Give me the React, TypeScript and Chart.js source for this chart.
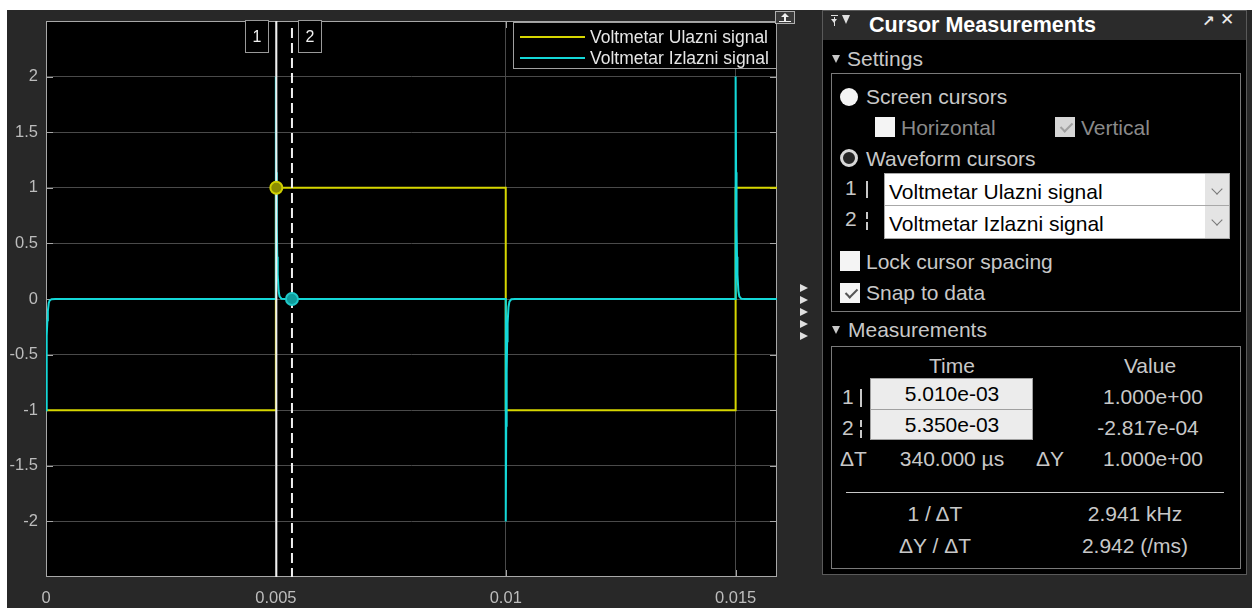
import React, { useEffect, useRef } from "react";
import { Chart, registerables } from "chart.js";

Chart.register(...registerables);

// ---------------- data ----------------
const xTicks = [0, 0.005, 0.01, 0.015];
const yTicks = [-2, -1.5, -1, -0.5, 0, 0.5, 1, 1.5, 2];
const xRange = [0, 0.0159];
const yRange = [-2.5, 2.5];

const seriesNames = ["Voltmetar Ulazni signal", "Voltmetar Izlazni signal"];
const seriesColors = ["#d6d600", "#14d8d8"];

// input square wave (yellow)
const ulazniT = [0, 0.005, 0.005, 0.01, 0.01, 0.015, 0.015, 0.0159];
const ulazniV = [-1, -1, 1, 1, -1, -1, 1, 1];

// output (cyan): spikes at each edge that decay quickly to zero
const izlazniT = [
  0, 0.00001, 0.00002, 0.00003, 0.00004, 0.00006, 0.00008, 0.00012, 0.0002,
  0.005, 0.005, 0.00501, 0.00502, 0.00503, 0.00504, 0.00506, 0.00508, 0.00512, 0.0052, 0.00535,
  0.01, 0.01, 0.01001, 0.01002, 0.01003, 0.01004, 0.01006, 0.01008, 0.01012, 0.0102,
  0.015, 0.015, 0.01501, 0.01502, 0.01503, 0.01504, 0.01506, 0.01508, 0.01512, 0.0152, 0.0159,
];
const izlazniV = [
  -1, -0.57, -0.33, -0.19, -0.11, -0.036, -0.012, -0.0013, 0,
  0, 2, 1.14, 0.66, 0.38, 0.22, 0.072, 0.024, 0.0026, 0, -0.00028,
  0, -2, -1.14, -0.66, -0.38, -0.22, -0.072, -0.024, -0.0026, 0,
  0, 2, 1.14, 0.66, 0.38, 0.22, 0.072, 0.024, 0.0026, 0, 0,
];

// waveform cursors
const cursorLabels = ["1", "2"];
const cursorTimes = [0.00501, 0.00535];
const cursorValues = [1.0, -2.817e-4];
const cursorFill = ["#8c8c00", "#0f9c9c"];
const cursorEdge = ["#cfcf00", "#20c8c8"];

const FONT = '"Liberation Sans", Arial, sans-serif';

const decor = {
  id: "scopeDecor",
  beforeDraw(chart: any) {
    const { ctx, chartArea: a } = chart;
    ctx.save();
    ctx.fillStyle = "#000";
    ctx.fillRect(a.left, a.top, a.right - a.left, a.bottom - a.top);
    ctx.restore();
  },
  beforeDatasetsDraw(chart: any) {
    const { ctx, chartArea: a, scales } = chart;
    const L = a.left, R = a.right, T = a.top, B = a.bottom;
    ctx.save();
    ctx.strokeStyle = "#a8a8a8";
    ctx.lineWidth = 1;
    const seg = (x0: number, y0: number, x1: number, y1: number) => {
      ctx.beginPath();
      ctx.moveTo(x0, y0);
      ctx.lineTo(x1, y1);
      ctx.stroke();
    };
    yTicks.forEach((v) => {
      const y = Math.round(scales.y.getPixelForValue(v)) + 0.5;
      seg(L, y, L + 7, y);
      seg(R - 7, y, R, y);
    });
    xTicks.forEach((v) => {
      const x = Math.round(scales.x.getPixelForValue(v)) + 0.5;
      seg(x, B, x, B - 7);
      seg(x, T, x, T + 7);
    });
    ctx.strokeRect(L + 0.5, T + 0.5, R - L - 1, B - T - 1);
    ctx.restore();
  },
  afterDatasetDraw(chart: any, args: any) {
    if (args.index !== 1) return;
    const { ctx, chartArea: a, scales } = chart;
    const x1 = scales.x.getPixelForValue(cursorTimes[0]);
    const x2 = scales.x.getPixelForValue(cursorTimes[1]);
    ctx.save();
    ctx.strokeStyle = "#f0f0f0";
    ctx.lineWidth = 2;
    ctx.beginPath();
    ctx.moveTo(x1, a.top);
    ctx.lineTo(x1, a.bottom);
    ctx.stroke();
    ctx.setLineDash([10, 5]);
    ctx.beginPath();
    ctx.moveTo(x2, a.top + 7);
    ctx.lineTo(x2, a.bottom);
    ctx.stroke();
    ctx.restore();
  },
  afterDraw(chart: any) {
    const { ctx, chartArea: a, scales } = chart;
    const R = a.right, T = a.top;
    ctx.save();
    ctx.lineWidth = 1;
    const seg = (x0: number, y0: number, x1: number, y1: number) => {
      ctx.beginPath();
      ctx.moveTo(x0, y0);
      ctx.lineTo(x1, y1);
      ctx.stroke();
    };

    // cursor label boxes
    ctx.font = `16px ${FONT}`;
    ctx.textAlign = "center";
    ctx.textBaseline = "middle";
    cursorTimes.forEach((t, i) => {
      const cx = Math.round(scales.x.getPixelForValue(t));
      const bx = i === 0 ? cx - 31 : cx + 6;
      ctx.fillStyle = "#000";
      ctx.fillRect(bx, T - 1, 24, 33);
      ctx.strokeStyle = "#9a9a9a";
      ctx.strokeRect(bx + 0.5, T - 0.5, 23, 32);
      ctx.fillStyle = "#f0f0f0";
      ctx.fillText(cursorLabels[i], bx + 12, T + 17);
    });

    // legend
    const lw = 264, lh = 47;
    const lx = R - lw, ly = T + 1;
    ctx.fillStyle = "#000";
    ctx.fillRect(lx, ly, lw, lh);
    ctx.strokeStyle = "#a0a0a0";
    ctx.strokeRect(lx + 0.5, ly + 0.5, lw - 1, lh - 1);
    ctx.font = `17.5px ${FONT}`;
    ctx.textAlign = "left";
    chart.data.datasets.slice(0, 2).forEach((ds: any, i: number) => {
      const y = ly + 15 + i * 21;
      ctx.strokeStyle = ds.borderColor;
      ctx.lineWidth = 2;
      seg(lx + 7, y, lx + 72, y);
      ctx.fillStyle = "#e6e6e6";
      ctx.fillText(ds.label, lx + 77, y + 1);
    });
    ctx.restore();
  },
};

function ScopeChart() {
  const ref = useRef<HTMLCanvasElement | null>(null);
  useEffect(() => {
    if (!ref.current) return;
    const tickFont = { family: "Liberation Sans", size: 16.5 };
    const chart = new Chart(ref.current, {
      type: "line",
      data: {
        datasets: [
          {
            label: seriesNames[0],
            data: ulazniT.map((t, i) => ({ x: t, y: ulazniV[i] })),
            borderColor: seriesColors[0],
            borderWidth: 2,
            pointRadius: 0,
            tension: 0,
            order: 2,
          },
          {
            label: seriesNames[1],
            data: izlazniT.map((t, i) => ({ x: t, y: izlazniV[i] })),
            borderColor: seriesColors[1],
            borderWidth: 2,
            pointRadius: 0,
            tension: 0,
            order: 1,
          },
          {
            label: "cursors",
            data: cursorTimes.map((t, i) => ({ x: t, y: cursorValues[i] })),
            showLine: false,
            pointRadius: 6,
            pointBorderWidth: 2,
            pointBackgroundColor: cursorFill,
            pointBorderColor: cursorEdge,
            order: 0,
          },
        ],
      },
      options: {
        animation: false,
        responsive: false,
        maintainAspectRatio: false,
        devicePixelRatio: 1,
        events: [],
        layout: { padding: { top: 11, right: 45, left: 0, bottom: 0 } },
        plugins: { legend: { display: false }, tooltip: { enabled: false } },
        scales: {
          x: {
            type: "linear",
            min: xRange[0],
            max: xRange[1],
            afterBuildTicks: (ax: any) => {
              ax.ticks = xTicks.map((v) => ({ value: v }));
            },
            afterFit: (ax: any) => {
              ax.height = 31;
              ax.paddingLeft = 0;
              ax.paddingRight = 0;
            },
            grid: { color: "#4a4a4a", lineWidth: 1, drawTicks: false },
            border: { display: false },
            ticks: {
              color: "#bdbdbd",
              font: tickFont,
              padding: 12,
              maxRotation: 0,
              autoSkip: false,
              callback: (v: any) => String(v),
            },
          },
          y: {
            type: "linear",
            min: yRange[0],
            max: yRange[1],
            afterBuildTicks: (ax: any) => {
              ax.ticks = yTicks.map((v) => ({ value: v }));
            },
            afterFit: (ax: any) => {
              ax.width = 39;
              ax.paddingTop = 0;
              ax.paddingBottom = 0;
            },
            grid: { color: "#4a4a4a", lineWidth: 1, drawTicks: false },
            border: { display: false },
            ticks: {
              color: "#bdbdbd",
              font: tickFont,
              padding: 8,
              autoSkip: false,
              callback: (v: any) => String(v),
            },
          },
        },
      } as any,
      plugins: [decor as any],
    });
    return () => chart.destroy();
  }, []);
  return (
    <canvas
      ref={ref}
      width={815}
      height={598}
      style={{ position: "absolute", left: 7, top: 10, width: 815, height: 598 }}
    />
  );
}

// ---------------- panel helpers ----------------
function Txt(props: any) {
  const { x, y, children, color = "#c8c8c8", size = 21, align = "left", bold = false } = props;
  const style: any = {
    position: "absolute",
    top: y - 15,
    height: 30,
    lineHeight: "30px",
    fontFamily: FONT,
    fontSize: size,
    color,
    whiteSpace: "nowrap",
    fontWeight: bold ? 700 : 400,
    left: x,
  };
  if (align === "center") style.transform = "translateX(-50%)";
  return <div style={style}>{children}</div>;
}

function Box(props: any) {
  const { x, y, w, h, style = {} } = props;
  return <div style={{ position: "absolute", left: x, top: y, width: w, height: h, boxSizing: "border-box", ...style }}>{props.children}</div>;
}

function Check(props: any) {
  const { x, y, color } = props;
  return (
    <div
      style={{
        position: "absolute",
        left: x,
        top: y,
        width: 5,
        height: 10,
        borderRight: `2px solid ${color}`,
        borderBottom: `2px solid ${color}`,
        transform: "rotate(45deg)",
      }}
    />
  );
}

function Tri(props: any) {
  const { x, y, w = 9, h = 7, color = "#c8c8c8" } = props;
  return (
    <div
      style={{
        position: "absolute",
        left: x,
        top: y,
        width: 0,
        height: 0,
        borderLeft: `${w / 2}px solid transparent`,
        borderRight: `${w / 2}px solid transparent`,
        borderTop: `${h}px solid ${color}`,
      }}
    />
  );
}

function Chevron(props: any) {
  const { x, y } = props;
  return (
    <div
      style={{
        position: "absolute",
        left: x,
        top: y,
        width: 7,
        height: 7,
        borderRight: "1px solid #777",
        borderBottom: "1px solid #777",
        transform: "rotate(45deg)",
      }}
    />
  );
}

function SolidBar(props: any) {
  const { x, y, h } = props;
  return <Box x={x} y={y} w={2} h={h} style={{ background: "#c8c8c8" }} />;
}

function DashBar(props: any) {
  const { x, y } = props;
  return (
    <>
      <Box x={x} y={y} w={2} h={7} style={{ background: "#c8c8c8" }} />
      <Box x={x} y={y + 10} w={2} h={8} style={{ background: "#c8c8c8" }} />
    </>
  );
}

function Panel() {
  const grey = "#c8c8c8";
  const dis = "#8a8a8a";
  return (
    <>
      {/* outer panel */}
      <Box x={822} y={10} w={425} h={565} style={{ background: "#000", border: "1px solid #5a5a5a" }} />
      <Box x={823} y={11} w={423} h={29} style={{ background: "#2b2b2b" }} />
      {/* header icons */}
      <Box x={831} y={15} w={7} h={1} style={{ background: "#e0e0e0" }} />
      <Box x={834} y={17} w={1} h={9} style={{ background: "#e0e0e0" }} />
      <Tri x={831} y={19} w={7} h={4} color="#e0e0e0" />
      <Tri x={842} y={15} w={9} h={9} color="#e0e0e0" />
      <Txt x={869} y={25} color="#ffffff" size={21.5} bold>
        Cursor Measurements
      </Txt>
      <div style={{ position: "absolute", left: 1202, top: 12, fontFamily: "DejaVu Sans", fontSize: 15, fontWeight: 700, color: "#e8e8e8" }}>↗</div>
      <div style={{ position: "absolute", left: 1220, top: 9, fontFamily: "DejaVu Sans", fontSize: 17, fontWeight: 700, color: "#ececec" }}>✕</div>

      {/* Settings */}
      <Tri x={832} y={55} w={9} h={8} color={grey} />
      <Txt x={847} y={59}>Settings</Txt>
      <Box x={831} y={73} w={410} h={239} style={{ border: "1px solid #7a7a7a" }} />

      <Box x={840} y={88} w={18} h={18} style={{ background: "#f4f4f4", borderRadius: "50%" }} />
      <Txt x={866} y={97}>Screen cursors</Txt>

      <Box x={875} y={117} w={20} h={20} style={{ background: "#f4f4f4" }} />
      <Txt x={901} y={128} color={dis}>Horizontal</Txt>
      <Box x={1055} y={117} w={20} h={20} style={{ background: "#d6d6d6" }} />
      <Check x={1063} y={120} color="#a0a0a0" />
      <Txt x={1081} y={128} color={dis}>Vertical</Txt>

      <Box x={840} y={149} w={18} h={18} style={{ background: "#262626", border: "3px solid #d8d8d8", borderRadius: "50%" }} />
      <Txt x={866} y={159}>Waveform cursors</Txt>

      <Txt x={845} y={188}>1</Txt>
      <SolidBar x={866} y={181} h={17} />
      <Txt x={845} y={219}>2</Txt>
      <DashBar x={866} y={212} />

      <Box x={884} y={173} w={346} h={33} style={{ background: "#fff", border: "1px solid #a8a8a8" }} />
      <Box x={884} y={205} w={346} h={34} style={{ background: "#fff", border: "1px solid #a8a8a8" }} />
      <Box x={1205} y={174} w={24} h={31} style={{ background: "#e4e4e4" }} />
      <Box x={1205} y={206} w={24} h={32} style={{ background: "#e4e4e4" }} />
      <Chevron x={1213} y={185} />
      <Chevron x={1213} y={216} />
      <Txt x={889} y={192} color="#000">Voltmetar Ulazni signal</Txt>
      <Txt x={889} y={224} color="#000">Voltmetar Izlazni signal</Txt>

      <Box x={840} y={251} w={20} h={20} style={{ background: "#f4f4f4" }} />
      <Txt x={866} y={262}>Lock cursor spacing</Txt>
      <Box x={840} y={283} w={20} h={20} style={{ background: "#f4f4f4" }} />
      <Check x={848} y={286} color="#555" />
      <Txt x={866} y={293}>Snap to data</Txt>

      {/* Measurements */}
      <Tri x={832} y={326} w={9} h={8} color={grey} />
      <Txt x={848} y={330}>Measurements</Txt>
      <Box x={831} y={346} w={410} h={223} style={{ border: "1px solid #7a7a7a" }} />

      <Txt x={952} y={366} align="center">Time</Txt>
      <Txt x={1150} y={366} align="center">Value</Txt>

      <Txt x={842} y={397}>1</Txt>
      <SolidBar x={860} y={389} h={18} />
      <Txt x={842} y={428}>2</Txt>
      <DashBar x={860} y={420} />

      <Box x={870} y={378} w={163} h={32} style={{ background: "#ececec", border: "1px solid #a0a0a0" }} />
      <Box x={870} y={409} w={163} h={31} style={{ background: "#ececec", border: "1px solid #a0a0a0" }} />
      <Txt x={952} y={394} align="center" color="#000">5.010e-03</Txt>
      <Txt x={952} y={425} align="center" color="#000">5.350e-03</Txt>

      <Txt x={1153} y={397} align="center">1.000e+00</Txt>
      <Txt x={1148} y={428} align="center">-2.817e-04</Txt>

      <Txt x={840} y={459}>ΔT</Txt>
      <Txt x={952} y={459} align="center">340.000 µs</Txt>
      <Txt x={1036} y={459}>ΔY</Txt>
      <Txt x={1153} y={459} align="center">1.000e+00</Txt>

      <Box x={846} y={492} w={378} h={1} style={{ background: "#c8c8c8" }} />

      <Txt x={935} y={514} align="center">1 / ΔT</Txt>
      <Txt x={1135} y={514} align="center">2.941 kHz</Txt>
      <Txt x={935} y={546} align="center">ΔY / ΔT</Txt>
      <Txt x={1135} y={546} align="center">2.942 (/ms)</Txt>
    </>
  );
}

function Extras() {
  const arrows = [288, 300, 312, 324, 336];
  return (
    <>
      {arrows.map((y) => (
        <div
          key={y}
          style={{
            position: "absolute",
            left: 800,
            top: y - 4,
            width: 0,
            height: 0,
            borderTop: "4px solid transparent",
            borderBottom: "4px solid transparent",
            borderLeft: "8px solid #e0e0e0",
          }}
        />
      ))}
      {/* undock button */}
      <Box x={775} y={11} w={20} h={13} style={{ background: "#3a3a3a", border: "1px solid #b0b0b0" }} />
      <div
        style={{
          position: "absolute",
          left: 781,
          top: 13,
          width: 0,
          height: 0,
          borderLeft: "4px solid transparent",
          borderRight: "4px solid transparent",
          borderBottom: "4px solid #f0f0f0",
        }}
      />
      <Box x={784} y={17} w={2} h={4} style={{ background: "#f0f0f0" }} />
      <Box x={779} y={21} w={12} h={1} style={{ background: "#f0f0f0" }} />
    </>
  );
}

export default function App() {
  return (
    <div style={{ position: "absolute", left: 0, top: 0, width: 1252, height: 608, background: "#fff", overflow: "hidden" }}>
      <div style={{ position: "absolute", left: 7, top: 10, width: 1245, height: 598, background: "#282828" }} />
      <ScopeChart />
      <Panel />
      <Extras />
    </div>
  );
}
